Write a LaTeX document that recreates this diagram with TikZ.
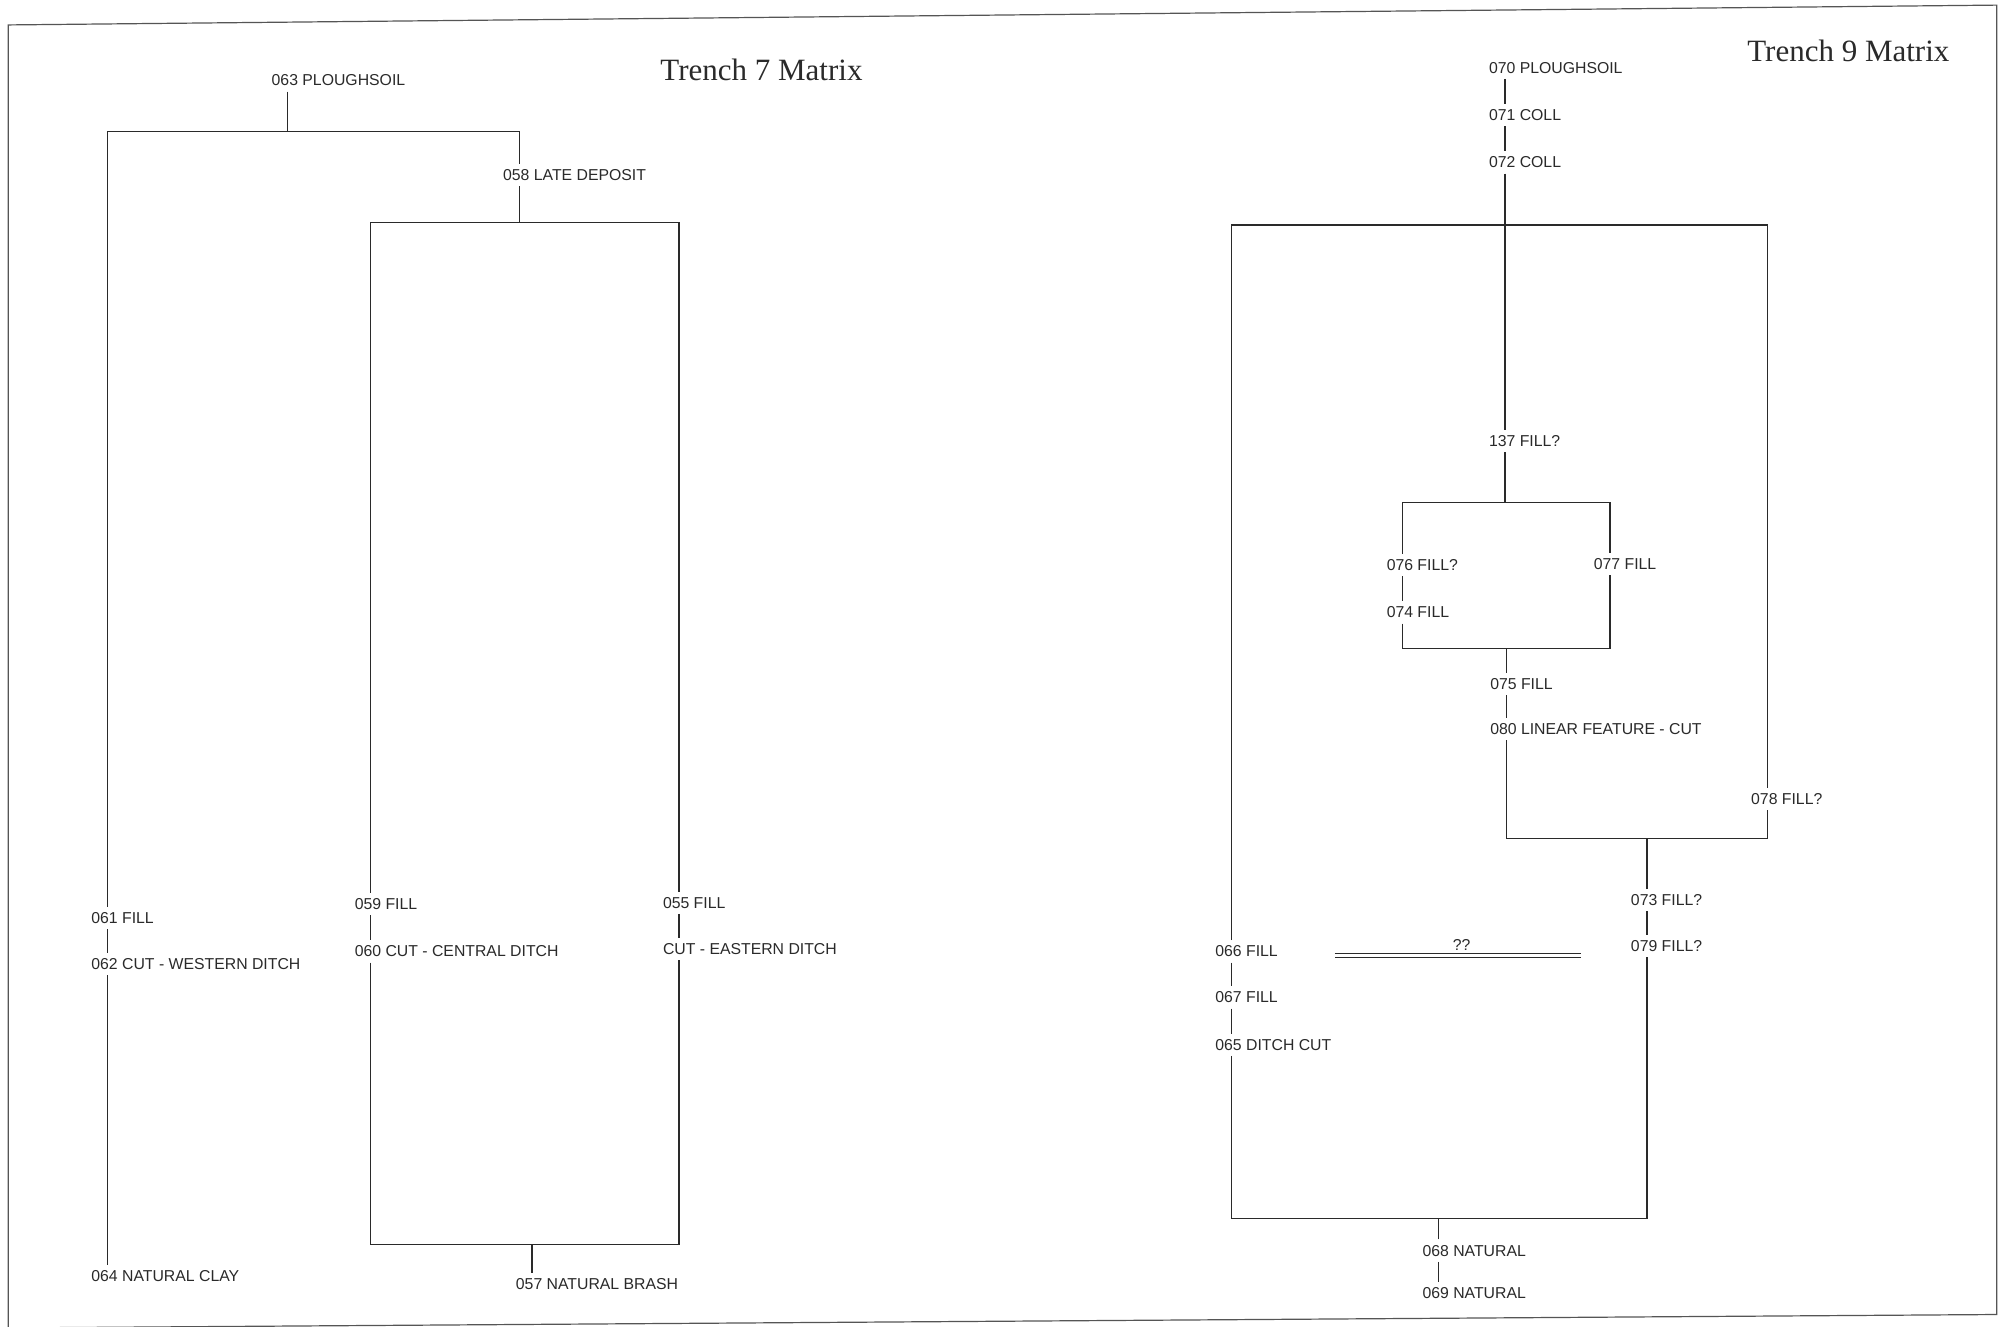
\documentclass[tikz,border=0pt]{standalone}
\usepackage{fontspec}
\setmainfont{Liberation Serif}
\newfontfamily\labfont{Liberation Sans}
\definecolor{ink}{HTML}{2A2A2A}
\newcommand{\mylab}[1]{\rlap{\hspace{-8pt}#1}}
\begin{document}
\begin{tikzpicture}[x=0.63935pt,y=-0.63935pt,
  lab/.style={inner xsep=0pt,inner ysep=2.6pt,font=\labfont\fontsize{7.9}{9}\selectfont,text=ink},
  ttl/.style={inner sep=0pt,font=\fontsize{15.5}{18}\selectfont,text=ink},
  con/.style={draw=ink,line width=0.6pt},
  frm/.style={draw=ink!80,line width=0.6pt}]
\useasboundingbox (0,0) rectangle (1568,1037);
\fill[white] (0,0) rectangle (1568,1037);
% frame
\begin{scope}
\clip (0,0) rectangle (1568,1037);
\draw[frm] (6.5,1045) -- (6.5,19.5) -- (1561.5,4) -- (1561.5,1028) -- (6.5,1038.5);
\end{scope}

% titles
\node[ttl] (t7) at (595.5,55) {Trench 7 Matrix};
\node[ttl] (t9) at (1445.5,40) {Trench 9 Matrix};

% ---------------- Trench 7 ----------------
\node[lab] (n063) at (225,63) {\mylab{063 PLOUGHSOIL}};
\node[lab] (n058) at (406,137) {\mylab{058 LATE DEPOSIT}};
\node[lab] (n061) at (84,718) {\mylab{061 FILL}};
\node[lab] (n062) at (84,754) {\mylab{062 CUT - WESTERN DITCH}};
\node[lab] (n064) at (84,998) {\mylab{064 NATURAL CLAY}};
\node[lab] (n059) at (290,707) {\mylab{059 FILL}};
\node[lab] (n060) at (290,744) {\mylab{060 CUT - CENTRAL DITCH}};
\node[lab] (n055) at (531,706) {\mylab{055 FILL}};
\node[lab] (ncut) at (531,742) {\mylab{CUT - EASTERN DITCH}};
\node[lab] (n057) at (416,1004) {\mylab{057 NATURAL BRASH}};

\coordinate (b7L) at (84,103);
\coordinate (b7R) at (406,103);
\coordinate (t7L) at (290,174);
\coordinate (t7R) at (531,174);
\coordinate (u7L) at (290,973);
\coordinate (u7R) at (531,973);

\draw[con] (n063) -- (n063 |- b7L);
\draw[con] (n061) -- (b7L) -- (b7R) -- (n058);
\draw[con] (n061) -- (n062);
\draw[con] (n062) -- (n064);
\draw[con] (n058) -- (n058 |- t7L);
\draw[con] (n059) -- (t7L) -- (t7R) -- (n055);
\draw[con] (n059) -- (n060);
\draw[con] (n055) -- (ncut);
\draw[con] (n060) -- (u7L) -- (u7R) -- (ncut);
\draw[con] (n057) -- (n057 |- u7L);

% ---------------- Trench 9 ----------------
\node[lab] (n070) at (1177,53) {\mylab{070 PLOUGHSOIL}};
\node[lab] (n071) at (1177,90) {\mylab{071 COLL}};
\node[lab] (n072) at (1177,127) {\mylab{072 COLL}};
\node[lab] (n137) at (1177,345) {\mylab{137 FILL?}};
\node[lab] (n076) at (1097,442) {\mylab{076 FILL?}};
\node[lab] (n074) at (1097,479) {\mylab{074 FILL}};
\node[lab] (n077) at (1259,441) {\mylab{077 FILL}};
\node[lab] (n075) at (1178,535) {\mylab{075 FILL}};
\node[lab] (n080) at (1178,570) {\mylab{080 LINEAR FEATURE - CUT}};
\node[lab] (n078) at (1382,625) {\mylab{078 FILL?}};
\node[lab] (n073) at (1288,704) {\mylab{073 FILL?}};
\node[lab] (n079) at (1288,740) {\mylab{079 FILL?}};
\node[lab] (n066) at (963,744) {\mylab{066 FILL}};
\node[lab] (n067) at (963,780) {\mylab{067 FILL}};
\node[lab] (n065) at (963,817) {\mylab{065 DITCH CUT}};
\node[lab] (n068) at (1125,978) {\mylab{068 NATURAL}};
\node[lab] (n069) at (1125,1011) {\mylab{069 NATURAL}};

\coordinate (B9L) at (963,176);
\coordinate (B9R) at (1382,176);
\coordinate (i9L) at (1097,393);
\coordinate (i9R) at (1259,393);
\coordinate (j9L) at (1097,507);
\coordinate (j9R) at (1259,507);
\coordinate (c9L) at (1178,656);
\coordinate (c9R) at (1382,656);
\coordinate (d9L) at (963,953);
\coordinate (d9R) at (1288,953);

\draw[con] (n070) -- (n071) -- (n072) -- (n137);
\draw[con] (n066) -- (B9L) -- (B9R) -- (n078);
\draw[con] (n137) -- (n137 |- i9L);
\draw[con] (n076) -- (i9L) -- (i9R) -- (n077);
\draw[con] (n076) -- (n074);
\draw[con] (n074) -- (j9L) -- (j9R) -- (n077);
\draw[con] (n075) -- (n075 |- j9L);
\draw[con] (n075) -- (n080);
\draw[con] (n080) -- (c9L) -- (c9R) -- (n078);
\draw[con] (n073) -- (n073 |- c9L);
\draw[con] (n073) -- (n079);
\draw[con] (n066) -- (n067) -- (n065);
\draw[con] (n065) -- (d9L) -- (d9R) -- (n079);
\draw[con] (n068) -- (n068 |- d9L);
\draw[con] (n068) -- (n069);

% uncertain relation
\coordinate (q1) at (1044,747);
\coordinate (q2) at (1236,747);
\draw[draw=ink,line width=0.55pt,double=white,double distance=1.3pt] (q1) -- (q2);
\node[lab,inner sep=0pt] (qq) at (1143,739) {??};
\end{tikzpicture}
\end{document}
